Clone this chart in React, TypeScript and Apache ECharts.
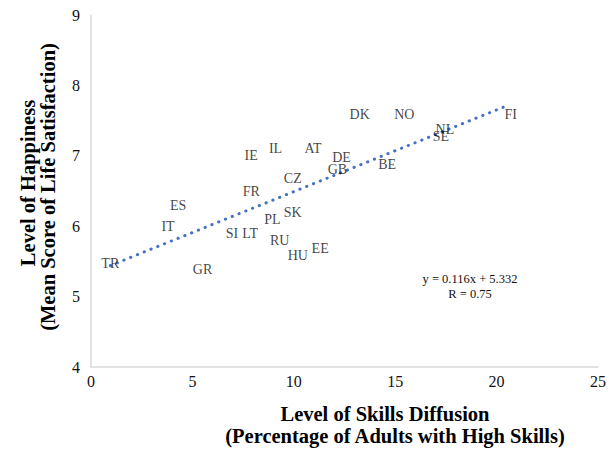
import React, { useEffect, useRef } from "react";
import * as echarts from "echarts";

const countries = ["TR", "GR", "IT", "ES", "SI", "LT", "FR", "IE", "IL", "AT", "CZ", "PL", "SK", "RU", "HU", "EE", "DE", "GB", "BE", "DK", "NO", "NL", "SE", "FI"];
const skills = [0.95, 5.5, 3.8, 4.3, 6.95, 7.85, 7.9, 7.9, 9.1, 10.95, 9.95, 8.95, 9.95, 9.3, 10.2, 11.3, 12.35, 12.15, 14.6, 13.25, 15.45, 17.45, 17.25, 20.7];
const happiness = [5.47, 5.39, 5.99, 6.3, 5.89, 5.89, 6.5, 7.0, 7.1, 7.1, 6.68, 6.1, 6.2, 5.79, 5.59, 5.69, 6.98, 6.8, 6.88, 7.59, 7.59, 7.38, 7.28, 7.59];
const trendX = [0.95, 20.5];
const trendY = [5.44, 7.71];
const xTicks = [0, 5, 10, 15, 20, 25];
const yTicks = [4, 5, 6, 7, 8, 9];

const serif = "'Liberation Serif', 'Times New Roman', serif";

export default function App() {
  const ref = useRef<HTMLDivElement>(null);
  useEffect(() => {
    if (!ref.current) return;
    const chart = echarts.init(ref.current, undefined, { renderer: "svg" });
    const pts = countries.map((c, i) => ({ value: [skills[i], happiness[i]], name: c }));
    chart.setOption({
      animation: false,
      backgroundColor: "#ffffff",
      grid: { left: 91, right: 8, top: 15, bottom: 83 },
      xAxis: {
        type: "value",
        min: xTicks[0],
        max: xTicks[xTicks.length - 1],
        interval: 5,
        axisLine: { show: true, lineStyle: { color: "#d9d9d9", width: 1.5 } },
        axisTick: { show: false },
        splitLine: { show: false },
        axisLabel: { fontFamily: serif, fontSize: 16, color: "#111", margin: 6 },
      },
      yAxis: {
        type: "value",
        min: yTicks[0],
        max: yTicks[yTicks.length - 1],
        interval: 1,
        axisLine: { show: true, lineStyle: { color: "#d9d9d9", width: 1.5 } },
        axisTick: { show: false },
        splitLine: { show: false },
        axisLabel: { fontFamily: serif, fontSize: 16, color: "#111", margin: 11 },
      },
      series: [
        {
          type: "line",
          data: trendX.map((x, i) => [x, trendY[i]]),
          showSymbol: false,
          symbol: "none",
          lineStyle: { color: "#4472c4", width: 3, type: [0.3, 7], cap: "round" },
          z: 1,
        },
        {
          type: "scatter",
          data: pts,
          symbolSize: 1,
          itemStyle: { color: "rgba(0,0,0,0)" },
          label: {
            show: true,
            position: "inside",
            formatter: (p: any) => p.name,
            fontFamily: serif,
            fontSize: 14,
            color: "#111",
          },
          z: 3,
        },
      ],
      graphic: [
        {
          type: "text",
          x: 470,
          y: 279,
          style: { text: "y = 0.116x + 5.332", font: `12.5px ${serif}`, fill: "#111", align: "center", verticalAlign: "middle" },
        },
        {
          type: "text",
          x: 470,
          y: 294,
          style: { text: "R = 0.75", font: `12.5px ${serif}`, fill: "#111", align: "center", verticalAlign: "middle" },
        },
        {
          type: "text",
          x: 385,
          y: 414,
          style: { text: "Level of Skills Diffusion", font: `bold 20.5px ${serif}`, fill: "#000", align: "center", verticalAlign: "middle" },
        },
        {
          type: "text",
          x: 395,
          y: 436,
          style: { text: "(Percentage of Adults with High Skills)", font: `bold 20.5px ${serif}`, fill: "#000", align: "center", verticalAlign: "middle" },
        },
        {
          type: "text",
          x: 28,
          y: 183,
          rotation: Math.PI / 2,
          style: { text: "Level of Happiness", font: `bold 20.5px ${serif}`, fill: "#000", align: "center", verticalAlign: "middle" },
        },
        {
          type: "text",
          x: 48,
          y: 187,
          rotation: Math.PI / 2,
          style: { text: "(Mean Score of Life Satisfaction)", font: `bold 20.5px ${serif}`, fill: "#000", align: "center", verticalAlign: "middle" },
        },
      ],
    });
    return () => chart.dispose();
  }, []);
  return <div ref={ref} style={{ position: "fixed", left: 0, top: 0, width: 609, height: 450 }} />;
}
